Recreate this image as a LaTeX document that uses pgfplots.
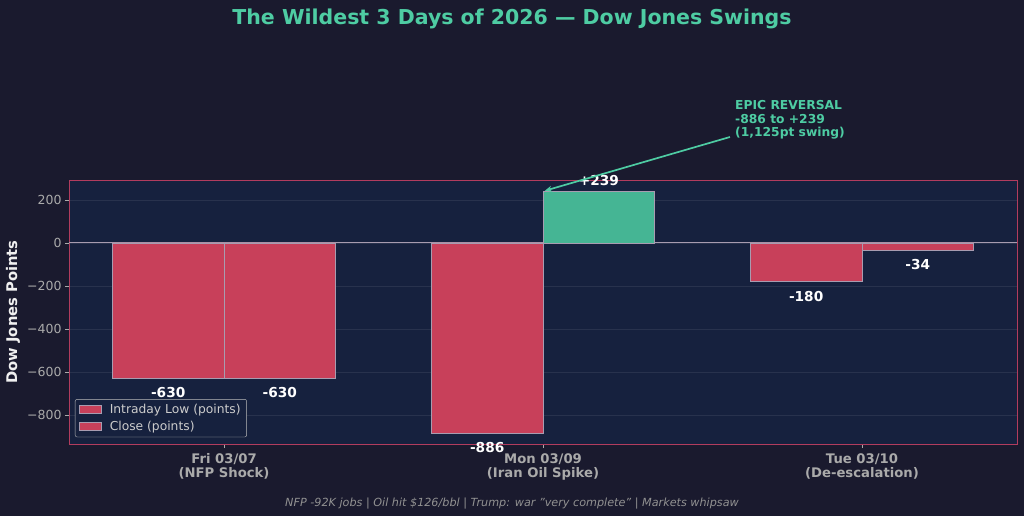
\documentclass[border=0pt]{standalone}
\usepackage{fontspec}
\setmainfont{DejaVu Sans}
\usepackage{pgfplots}
\pgfplotsset{compat=1.18}
\usetikzlibrary{arrows.meta}
\definecolor{figbg}{HTML}{1A1A2E}
\definecolor{axbg}{HTML}{16213E}
\definecolor{redbar}{HTML}{C8405A}
\definecolor{greenbar}{HTML}{45B594}
\definecolor{teal}{HTML}{4ECCA3}
\definecolor{spine}{HTML}{B23C5E}
\definecolor{ticktxt}{HTML}{AAAAAA}
\definecolor{edgec}{HTML}{A89CB0}

\begin{document}
\begin{tikzpicture}
\fill[figbg] (-69pt,-72pt) rectangle (955pt,444pt);
\begin{axis}[
    at={(0,0)}, anchor=south west,
    scale only axis,
    width=948pt, height=264pt,
    xmin=-0.486, xmax=2.486,
    ymin=-935, ymax=293,
    axis background/.style={fill=axbg},
    axis line style={draw=spine, line width=0.8pt},
    xtick={0,1,2},
    xticklabels={Fri 03/07\\(NFP Shock), Mon 03/09\\(Iran Oil Spike), Tue 03/10\\(De-escalation)},
    xticklabel style={align=center, font=\bfseries\fontsize{13.2}{14}\selectfont, text=ticktxt, yshift=-2pt},
    ytick={-800,-600,-400,-200,0,200},
    yticklabels={−800,−600,−400,−200,0,200},
    yticklabel style={font=\fontsize{12.5}{14}\selectfont, text=ticktxt},
    tick style={draw=ticktxt, line width=0.6pt},
    tick align=outside,
    major tick length=4pt,
    xtick pos=bottom, ytick pos=left,
    ymajorgrids=true,
    grid style={draw=white, opacity=0.08, line width=0.6pt},
    clip=false,
    legend style={at={(0.0063,0.17)}, anchor=north west, fill=axbg, draw=ticktxt!80, rounded corners=2pt,
        text=ticktxt!60!white, font=\fontsize{12.3}{14}\selectfont, row sep=2pt, inner xsep=4pt, inner ysep=3pt,
        /tikz/every odd column/.append style={column sep=6pt}},
    legend cell align=left,
    legend image code/.code={\draw[#1, line width=0.6pt, sharp corners] (0pt,-4pt) rectangle (22pt,4pt);},
]
% zero line
\addplot[forget plot, draw=edgec, line width=1pt] coordinates {(-0.486,0) (2.486,0)};

\addplot[ybar, bar width=0.35, bar shift=-0.175, fill=redbar, draw=edgec, line width=0.8pt]
    coordinates {(0,-630) (1,-886) (2,-180)};
\addplot[ybar, bar width=0.35, bar shift=0.175, fill=redbar, draw=edgec, line width=0.8pt]
    coordinates {(0,-630) (2,-34)};
\addplot[ybar, bar width=0.35, bar shift=0.175, fill=greenbar, draw=edgec, line width=0.8pt, forget plot]
    coordinates {(1,239)};
\legend{Intraday Low (points), Close (points)}

% value labels
\tikzset{vl/.style={text=white, font=\bfseries\fontsize{13.7}{15}\selectfont, inner sep=1pt}}
\node[vl, anchor=north] at (axis cs:-0.175,-630) [yshift=-8pt] {-630};
\node[vl, anchor=north] at (axis cs:0.175,-630) [yshift=-8pt] {-630};
\node[vl, anchor=north] at (axis cs:0.825,-886) [yshift=-8pt] {-886};
\node[vl, anchor=south] at (axis cs:1.175,239) [yshift=5pt] {+239};
\node[vl, anchor=north] at (axis cs:1.825,-180) [yshift=-8pt] {-180};
\node[vl, anchor=north] at (axis cs:2.175,-34) [yshift=-8pt] {-34};

% annotation
\draw[teal, line width=1.7pt, -{Stealth[length=7pt,width=6pt]}] (axis cs:1.586,493) -- (axis cs:1.006,243);
\end{axis}

\node[anchor=north west, align=left, text=teal, font=\bfseries\fontsize{12.3}{13.8}\selectfont, inner sep=0pt]
    at (666pt,344pt) {EPIC REVERSAL\\-886 to +239\\(1,125pt swing)};
\node[text=teal, font=\bfseries\fontsize{20.5}{24}\selectfont] at (443pt,425pt) {The Wildest 3 Days of 2026 — Dow Jones Swings};
\node[rotate=90, text=white!88!gray, font=\bfseries\fontsize{14.7}{16}\selectfont] at (-56pt,132pt) {Dow Jones Points};
\node[text=ticktxt!85!black, font=\itshape\fontsize{11.2}{13}\selectfont] at (443pt,-60pt)
    {NFP -92K jobs | Oil hit \$126/bbl | Trump: war \char"22 very complete\char"22{} | Markets whipsaw};

\pgfresetboundingbox
\path (-69pt,-72pt) rectangle (955pt,444pt);
\end{tikzpicture}
\end{document}
